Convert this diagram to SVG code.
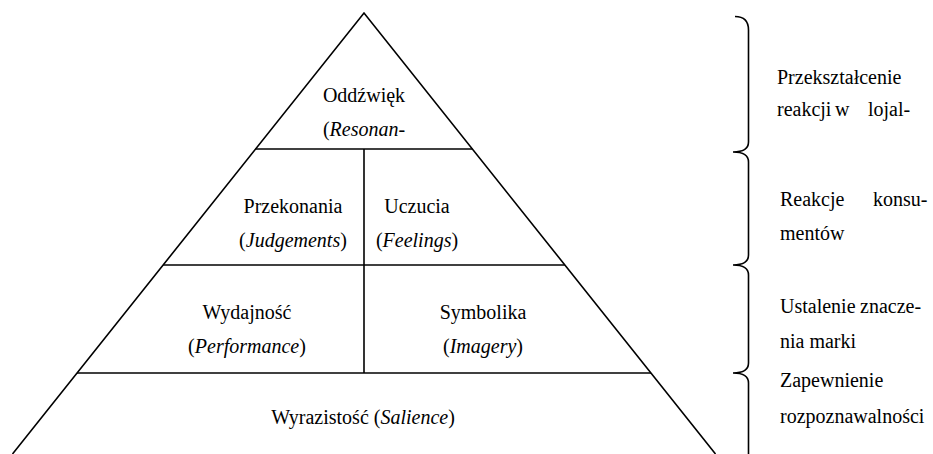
<svg xmlns="http://www.w3.org/2000/svg" width="933" height="454" viewBox="0 0 933 454">
<style>
.ln{stroke:#000;stroke-width:1.6;fill:none;stroke-linecap:butt}
.br{stroke:#000;stroke-width:1.6;fill:none}
.t{font-family:'Liberation Serif','Times New Roman',Times,serif;font-size:20px;fill:#000}
.c{text-anchor:middle}
.i{font-style:italic}
</style>
<rect width="933" height="454" fill="#fff"/>
<g id="pyramid">
<path class="ln" d="M12.5,454 L364,13 L715.5,454"/>
<line class="ln" x1="255.6" y1="149" x2="472.4" y2="149"/>
<line class="ln" x1="163.2" y1="265" x2="564.8" y2="265"/>
<line class="ln" x1="77" y1="373" x2="651" y2="373"/>
<line class="ln" x1="364" y1="149" x2="364" y2="373"/>
</g>
<g class="t" font-family="Liberation Serif, serif">
<g id="resonance">
<text class="c" x="364" y="102">Oddźwięk</text>
<text class="c" x="364" y="136">(<tspan class="i">Resonan-</tspan></text>
</g>
<g id="judgements">
<text class="c" x="293" y="213">Przekonania</text>
<text class="c" x="293" y="247">(<tspan class="i">Judgements</tspan>)</text>
</g>
<g id="feelings">
<text class="c" x="417" y="213">Uczucia</text>
<text class="c" x="417" y="247">(<tspan class="i">Feelings</tspan>)</text>
</g>
<g id="performance">
<text class="c" x="247" y="319">Wydajność</text>
<text class="c" x="247" y="353">(<tspan class="i">Performance</tspan>)</text>
</g>
<g id="imagery">
<text class="c" x="483" y="319">Symbolika</text>
<text class="c" x="483" y="353">(<tspan class="i">Imagery</tspan>)</text>
</g>
<g id="salience">
<text class="c" x="363" y="424">Wyrazistość (<tspan class="i">Salience</tspan>)</text>
</g>
<g id="label-loyalty">
<text x="777" y="84">Przekształcenie</text>
<text x="777" y="116">reakcji</text>
<text x="835" y="116">w</text>
<text x="868" y="116">lojal-</text>
</g>
<g id="label-reactions">
<text x="780" y="206">Reakcje</text>
<text x="873" y="206">konsu-</text>
<text x="780" y="240">mentów</text>
</g>
<g id="label-meaning">
<text x="780" y="313">Ustalenie</text>
<text x="860" y="313">znacze-</text>
<text x="780" y="348">nia marki</text>
</g>
<g id="label-salience">
<text x="780" y="387">Zapewnienie</text>
<text x="780" y="423">rozpoznawalności</text>
</g>
</g>
<g id="connectors">
<path class="br" d="M735,16.5 Q748.5,16.5 748.5,30 V142 Q748.5,152 733,152 Q748.5,152 748.5,162 V255 Q748.5,265 733,265 Q748.5,265 748.5,275 V363 Q748.5,373 733,373 Q748.5,373 748.5,383 V454"/>
</g>
</svg>
